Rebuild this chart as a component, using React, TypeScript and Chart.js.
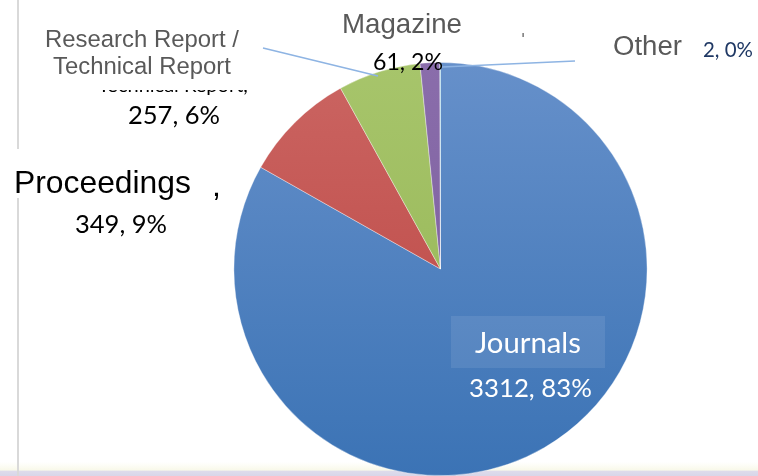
import { useEffect, useRef } from "react";
import { Chart, registerables } from "chart.js";

Chart.register(...registerables);

// ---- data ----
const categories = ["Journals", "Proceedings", "Research Report / Technical Report", "Magazine", "Other"];
const counts = [3312, 349, 257, 61, 2];

const total = counts.reduce((a, b) => a + b, 0);
const percents = counts.map((v) => Math.round((v * 100) / total));
const valueTexts = counts.map((v, i) => `${v}, ${percents[i]}%`);

// ---- styles ----
const topColors = ["#6690CA", "#CB6562", "#A7C56B", "#8A6DAB", "#5BB6CE"];
const bottomColors = ["#3B73B5", "#BA4340", "#93B352", "#785B9A", "#44A5BF"];

const ARIAL = '"Liberation Sans", Arial, sans-serif';
const CALIBRI = 'Lato, "Noto Sans", sans-serif';

type Lbl = { text: string; x: number; y: number; w: number; font: string; color: string };

const labelLayout: Lbl[] = [
  { text: "Research Report /", x: 45, y: 47, w: 194, font: ARIAL, color: "#595959" },
  { text: "Technical Report", x: 53, y: 74, w: 178, font: ARIAL, color: "#595959" },
  { text: valueTexts[2], x: 128, y: 124, w: 92, font: CALIBRI, color: "#000000" },
  { text: categories[3], x: 342, y: 33, w: 120, font: ARIAL, color: "#595959" },
  { text: valueTexts[3], x: 373, y: 70, w: 70, font: CALIBRI, color: "#000000" },
  { text: categories[4], x: 613, y: 55, w: 69, font: ARIAL, color: "#595959" },
  { text: valueTexts[4], x: 703, y: 57, w: 50, font: CALIBRI, color: "#1F3864" },
  { text: categories[1], x: 14, y: 193, w: 177, font: ARIAL, color: "#000000" },
  { text: valueTexts[1], x: 75, y: 233, w: 92, font: CALIBRI, color: "#000000" },
  { text: categories[0], x: 475, y: 353, w: 106, font: CALIBRI, color: "#FFFFFF" },
  { text: valueTexts[0], x: 469, y: 397, w: 123, font: CALIBRI, color: "#FFFFFF" },
];

function fitText(ctx: CanvasRenderingContext2D, l: Lbl) {
  ctx.font = `100px ${l.font}`;
  const m = ctx.measureText(l.text).width;
  const size = (100 * l.w) / m;
  ctx.font = `${size}px ${l.font}`;
  ctx.fillStyle = l.color;
  ctx.textAlign = "left";
  ctx.textBaseline = "alphabetic";
  ctx.fillText(l.text, l.x, l.y);
}

const decorPlugin = {
  id: "decor",
  beforeDraw(chart: any) {
    const ctx: CanvasRenderingContext2D = chart.ctx;
    ctx.save();
    ctx.fillStyle = "#FFFFFF";
    ctx.fillRect(0, 0, chart.width, chart.height);
    // faint bottom band
    const g = ctx.createLinearGradient(0, 462, 0, 476);
    g.addColorStop(0, "rgba(250,250,235,0)");
    g.addColorStop(0.6, "rgba(248,248,232,1)");
    g.addColorStop(0.62, "#DEDCEC");
    g.addColorStop(1, "#D8D6E8");
    ctx.fillStyle = g;
    ctx.fillRect(0, 462, chart.width, 14);
    // vertical grey line
    ctx.fillStyle = "#D9D9D9";
    ctx.fillRect(17, 0, 2, 149);
    ctx.fillRect(17, 198, 2, 278);
    ctx.restore();
  },
  afterDatasetsDraw(chart: any) {
    const ctx: CanvasRenderingContext2D = chart.ctx;
    ctx.save();
    // hidden label fragment (only the bottom sliver shows)
    ctx.save();
    ctx.beginPath();
    ctx.rect(90, 90, 170, 5);
    ctx.clip();
    fitText(ctx, { text: "Technical Report,", x: 98, y: 91.5, w: 150, font: CALIBRI, color: "#000000" });
    ctx.restore();

    // leader lines
    ctx.strokeStyle = "#8EB4E3";
    ctx.lineWidth = 1.6;
    ctx.beginPath();
    ctx.moveTo(263, 48);
    ctx.lineTo(378, 76);
    ctx.stroke();
    ctx.beginPath();
    ctx.moveTo(442, 67);
    ctx.lineTo(575, 61);
    ctx.stroke();

    // small tick remnant
    ctx.fillStyle = "#555555";
    ctx.fillRect(522.5, 33, 1.2, 4);

    // Journals label background
    ctx.fillStyle = "rgba(255,255,255,0.09)";
    ctx.fillRect(451, 316, 154, 52);

    for (const l of labelLayout) fitText(ctx, l);

    // stray comma
    ctx.font = `32px ${ARIAL}`;
    ctx.fillStyle = "#000000";
    ctx.fillText(",", 212, 196);
    ctx.restore();
  },
};

export default function App() {
  const ref = useRef<HTMLCanvasElement | null>(null);

  useEffect(() => {
    let chart: Chart | null = null;
    let cancelled = false;
    const make = () => {
      if (cancelled || !ref.current) return;
      chart = new Chart(ref.current, {
        type: "pie",
        data: {
          labels: categories,
          datasets: [
            {
              data: counts,
              backgroundColor: (c: any) => {
                const i = c.dataIndex;
                const area = c.chart.chartArea;
                if (!area) return bottomColors[i];
                const g = c.chart.ctx.createLinearGradient(0, area.top, 0, area.bottom);
                g.addColorStop(0, topColors[i]);
                g.addColorStop(1, bottomColors[i]);
                return g;
              },
              borderColor: "rgba(255,255,255,0.45)",
              borderWidth: 0.8,
            },
          ],
        },
        options: {
          responsive: false,
          animation: false,
          layout: { padding: { left: 233, right: 110, top: 62, bottom: 0 } },
          plugins: {
            legend: { display: false },
            tooltip: { enabled: false },
          },
        },
        plugins: [decorPlugin],
      });
    };
    const fonts = (document as any).fonts;
    if (fonts && fonts.load) {
      Promise.all([
        fonts.load('24px "Liberation Sans"'),
        fonts.load("24px Lato"),
      ])
        .catch(() => null)
        .then(make);
    } else make();
    return () => {
      cancelled = true;
      if (chart) chart.destroy();
    };
  }, []);

  return (
    <div style={{ position: "absolute", left: 0, top: 0, width: 758, height: 476 }}>
      <canvas ref={ref} width={758} height={476} style={{ width: 758, height: 476, display: "block" }} />
    </div>
  );
}
